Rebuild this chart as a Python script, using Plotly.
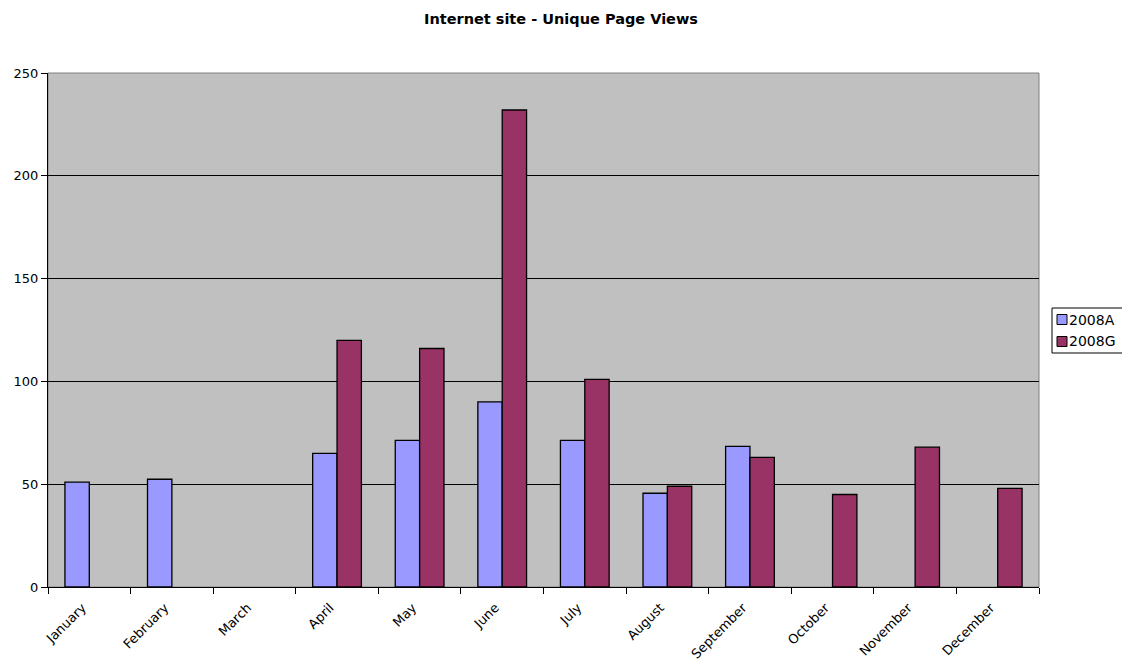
import plotly.graph_objects as go

months = ["January", "February", "March", "April", "May", "June", "July",
          "August", "September", "October", "November", "December"]
series_a = [51, 52.4, None, 65, 71.3, 90, 71.3, 45.6, 68.4, None, None, None]
series_g = [None, None, None, 120, 116, 232, 101, 49, 63, 45, 68, 48]
y_ticks = [0, 50, 100, 150, 200, 250]
series_names = ["2008A", "2008G"]
series_colors = ["#9999FF", "#993366"]

font_family = "DejaVu Sans"

fig = go.Figure()
for name, vals, col in zip(series_names, [series_a, series_g], series_colors):
    fig.add_trace(go.Bar(name=name, x=months, y=vals, showlegend=False,
                         marker=dict(color=col, line=dict(color="#000000", width=1.3))))

L, R, T, B = 48, 83, 73, 79
W, H = 1122, 666
pw, ph = W - L - R, H - T - B

def px_x(px):
    return (px - L) / pw

def px_y(py):
    return (H - B - py) / ph

fig.update_layout(
    width=W, height=H,
    margin=dict(l=L, r=R, t=T, b=B, autoexpand=False),
    paper_bgcolor="white",
    plot_bgcolor="#C0C0C0",
    barmode="group",
    bargap=0.41,
    bargroupgap=0,
    font=dict(family=font_family, size=12, color="black"),
    title=dict(text="<b>Internet site - Unique Page Views</b>", x=0.5, xanchor="center",
               y=0.972, yanchor="middle", font=dict(size=14.5, family=font_family)),
    showlegend=False,
)

fig.update_xaxes(
    type="category",
    tickangle=-45,
    ticks="outside", ticklen=6, tickcolor="black",
    tickson="boundaries",
    ticklabelstandoff=7, ticklabelshift=-7,
    showline=True, linecolor="black", linewidth=1,
    showgrid=False,
    tickfont=dict(size=13),
)
fig.update_yaxes(
    range=[0, 250],
    tickvals=y_ticks,
    ticks="outside", ticklen=6, tickcolor="black",
    showline=True, linecolor="black", linewidth=1,
    showgrid=True, gridcolor="#000000", gridwidth=1,
    zeroline=False,
    tickfont=dict(size=13),
)

# gray border on top and right of plot area
fig.add_shape(type="rect", xref="paper", yref="paper", x0=0, y0=0, x1=1, y1=1,
              line=dict(color="#808080", width=1), layer="below")

# custom legend box (clipped at right edge like the reference)
fig.add_shape(type="rect", xref="paper", yref="paper",
              x0=px_x(1052), x1=px_x(1130), y0=px_y(353), y1=px_y(308),
              line=dict(color="black", width=1), fillcolor="white", layer="above")
for i, (name, col) in enumerate(zip(series_names, series_colors)):
    cy = 319.5 + i * 22
    fig.add_shape(type="rect", xref="paper", yref="paper",
                  x0=px_x(1057), x1=px_x(1067), y0=px_y(cy + 5), y1=px_y(cy - 5),
                  line=dict(color="black", width=1), fillcolor=col, layer="above")
    fig.add_annotation(xref="paper", yref="paper", x=px_x(1067), y=px_y(cy),
                       text=name, showarrow=False, xanchor="left", yanchor="middle",
                       font=dict(size=14, family=font_family))

fig.write_html("out.html")
